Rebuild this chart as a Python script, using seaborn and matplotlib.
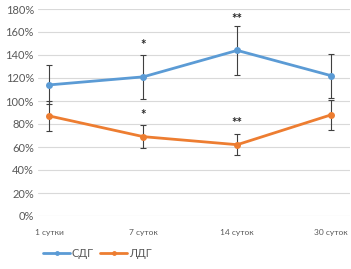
import numpy as np
import pandas as pd
import matplotlib
matplotlib.use("Agg")
import matplotlib.pyplot as plt
import seaborn as sns

# values (percent)
days = ["1 сутки", "7 суток", "14 суток", "30 суток"]
sdg = [114, 121, 144, 122]
sdg_err = [17, 19, 21, 19]
ldg = [87, 69, 62, 88]
ldg_err = [13, 10, 9, 13]
sdg_marks = ["", "*", "**", ""]
ldg_marks = ["", "*", "**", ""]
sdg_mark_y = [None, 149, 171, None]
ldg_mark_y = [None, 88, 81, None]

blue = "#5B9BD5"
orange = "#ED7D31"
grey = "#595959"

sns.set_style("white")
plt.rcParams["font.family"] = ["Lato", "DejaVu Sans"]

df = pd.DataFrame({
    "x": list(range(len(days))) * 2,
    "val": sdg + ldg,
    "group": ["СДГ"] * len(days) + ["ЛДГ"] * len(days),
})

fig = plt.figure(figsize=(3.51, 2.69), dpi=100)
ax = fig.add_axes([38 / 351, 53 / 269, 312 / 351, 207 / 269])

x = np.arange(len(days))
ax.errorbar(x, sdg, yerr=sdg_err, fmt="none", ecolor="#404040", elinewidth=0.8,
            capsize=2.5, capthick=0.8, zorder=1)
ax.errorbar(x, ldg, yerr=ldg_err, fmt="none", ecolor="#404040", elinewidth=0.8,
            capsize=2.5, capthick=0.8, zorder=1)

sns.lineplot(data=df, x="x", y="val", hue="group", palette=[blue, orange],
             marker="o", markersize=5, markeredgewidth=0, linewidth=2,
             ax=ax, zorder=2)

for i in range(len(days)):
    if sdg_marks[i]:
        ax.text(i, sdg_mark_y[i], sdg_marks[i], ha="center", va="center",
                fontsize=9.5, color="#262626", fontweight="bold")
    if ldg_marks[i]:
        ax.text(i, ldg_mark_y[i], ldg_marks[i], ha="center", va="center",
                fontsize=9.5, color="#262626", fontweight="bold")

ax.set_ylim(0, 180)
ax.set_xlim(-0.12, 3.2)
ax.set_yticks(range(0, 181, 20))
ax.set_yticklabels([f"{v}%" for v in range(0, 181, 20)], fontsize=8, color=grey)
ax.set_xticks(x)
ax.set_xticklabels(days, fontsize=6, color=grey)
ax.tick_params(axis="both", length=0, pad=3)
ax.tick_params(axis="x", pad=9)
ax.yaxis.grid(True, color="#D9D9D9", linewidth=0.8)
ax.set_axisbelow(True)
for s in ax.spines.values():
    s.set_visible(False)
ax.set_xlabel("")
ax.set_ylabel("")

handles, labels = ax.get_legend_handles_labels()
for h in handles:
    h.set_markersize(3.5)
ax.legend(handles, labels, loc="center", bbox_to_anchor=(0.19, -0.18),
          ncol=2, frameon=False, fontsize=8, labelcolor=grey,
          handlelength=2.4, columnspacing=0.6, handletextpad=0.15)

fig.savefig("out.png", dpi=100)
